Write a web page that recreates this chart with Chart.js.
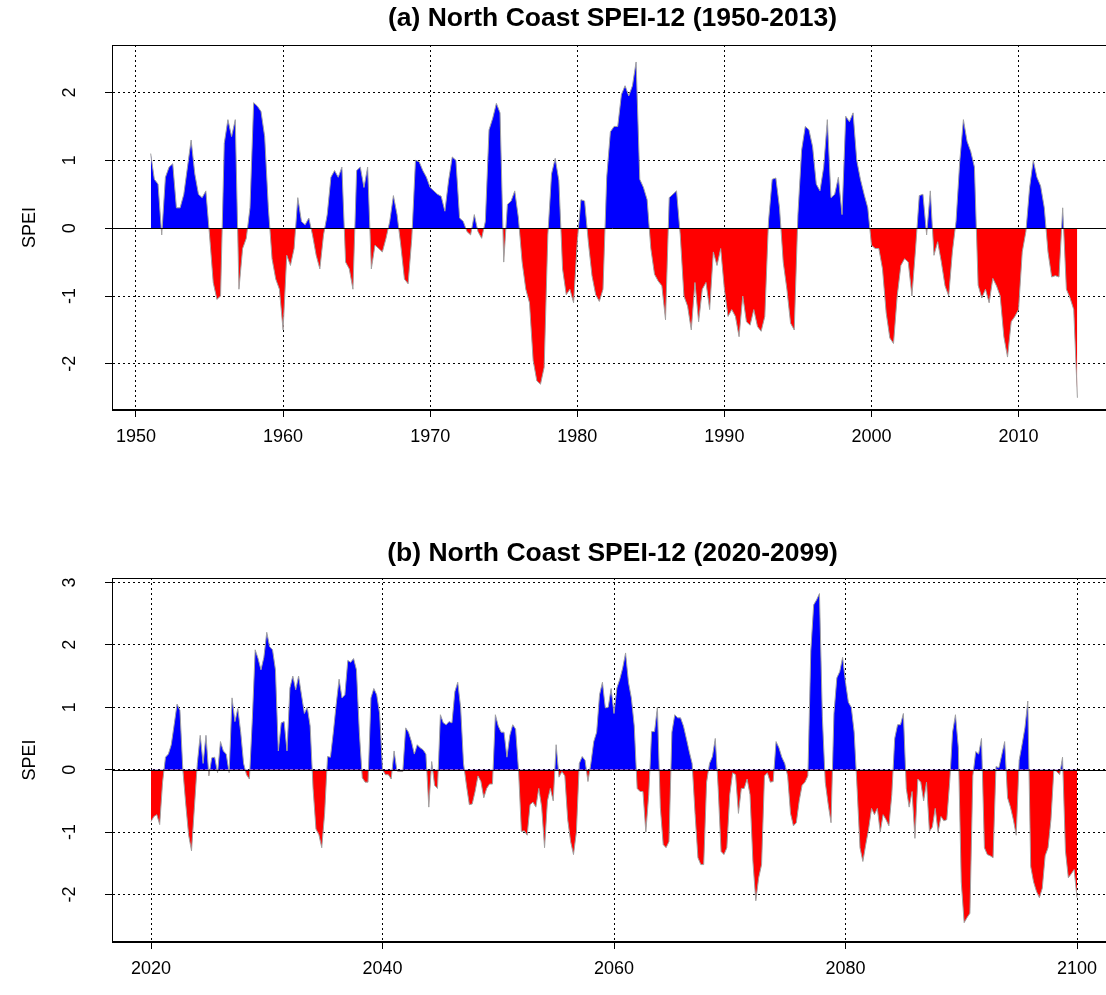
<!DOCTYPE html>
<html>
<head>
<meta charset="utf-8">
<title>North Coast SPEI-12</title>
<script src="https://cdn.jsdelivr.net/npm/chart.js@4.4.1/dist/chart.umd.min.js"></script>
<style>
  html, body { margin: 0; padding: 0; background: #fff; overflow: hidden; }
  #wrap { position: relative; width: 1106px; height: 995px; overflow: hidden; }
  .panel { position: absolute; left: 0; width: 1120px; }
  #panelA { top: 0; height: 490px; }
  #panelB { top: 535px; height: 460px; }
</style>
</head>
<body>
<div id="wrap">
  <div class="panel" id="panelA"><canvas id="chartA"></canvas></div>
  <div class="panel" id="panelB"><canvas id="chartB"></canvas></div>
</div>
<script>
// SPEI-12, one value per quarter, one row per year
const startA = 1951;
const speiA = [
  1.1, 0.72, 0.65, -0.1,     // 1951
  0.75, 0.9, 0.95, 0.3,
  0.3, 0.5, 0.9, 1.3,
  0.8, 0.5, 0.45, 0.55,
  -0.1, -0.8, -1.05, -1.0,   // 1955
  1.25, 1.6, 1.35, 1.6,
  -0.9, -0.3, -0.15, 0.3,
  1.85, 1.8, 1.72, 1.35,
  0.3, -0.45, -0.75, -0.9,
  -1.5, -0.4, -0.55, -0.3,   // 1960
  0.45, 0.1, 0.05, 0.15,
  -0.1, -0.4, -0.6, -0.1,
  0.2, 0.75, 0.85, 0.75,
  0.9, -0.5, -0.6, -0.9,
  0.85, 0.9, 0.6, 0.9,       // 1965
  -0.6, -0.25, -0.3, -0.35,
  -0.15, 0.1, 0.48, 0.2,
  -0.25, -0.75, -0.82, -0.15,
  1.0, 0.98, 0.85, 0.75,
  0.6, 0.55, 0.5, 0.47,      // 1970
  0.25, 0.7, 1.05, 1.0,
  0.15, 0.1, -0.05, -0.1,
  0.2, -0.05, -0.15, 0.1,
  1.45, 1.62, 1.84, 1.7,
  -0.5, 0.35, 0.4, 0.55,     // 1975
  0.15, -0.5, -0.9, -1.1,
  -1.95, -2.25, -2.3, -2.05,
  -0.1, 0.8, 1.03, 0.7,
  -0.6, -0.98, -0.9, -1.1,
  -0.2, 0.42, 0.4, -0.2,     // 1980
  -0.7, -0.98, -1.08, -0.9,
  0.75, 1.42, 1.5, 1.5,
  1.97, 2.1, 1.95, 2.1,
  2.45, 0.72, 0.6, 0.42,
  -0.3, -0.68, -0.78, -0.85, // 1985
  -1.35, 0.45, 0.5, 0.55,
  -0.1, -1.0, -1.15, -1.5,
  -0.8, -1.38, -0.9, -0.8,
  -1.2, -0.35, -0.55, -0.3,
  -0.9, -1.3, -1.2, -1.3,    // 1990
  -1.6, -1.0, -1.38, -1.43,
  -1.2, -1.45, -1.52, -1.3,
  0.1, 0.72, 0.74, 0.3,
  -0.5, -0.9, -1.4, -1.5,
  0.2, 1.15, 1.5, 1.45,      // 1995
  1.2, 0.65, 0.55, 0.9,
  1.6, 0.45, 0.5, 0.75,
  0.2, 1.65, 1.57, 1.7,
  1.0, 0.72, 0.5, 0.3,
  -0.25, -0.3, -0.3, -0.6,   // 2000
  -1.25, -1.62, -1.7, -1.0,
  -0.55, -0.45, -0.5, -1.0,
  -0.3, 0.48, 0.5, -0.1,
  0.55, -0.4, -0.2, -0.5,
  -0.85, -1.0, -0.35, 0.1,   // 2005
  0.98, 1.6, 1.28, 1.13,
  0.9, -0.84, -1.03, -0.9,
  -1.1, -0.74, -0.85, -1.0,
  -1.6, -1.9, -1.38, -1.3,
  -1.2, -0.35, -0.05, 0.6,   // 2010
  1.0, 0.75, 0.62, 0.3,
  -0.35, -0.72, -0.7, -0.72,
  0.3, -0.9, -1.03, -1.2,
  -2.5                       // 2014
];

const startB = 2020;
const speiB = [
  -0.83, -0.75, -0.72, -0.88, // 2020
  -0.2, 0.2, 0.25, 0.4,
  0.72, 1.05, 0.95, 0.0,
  -0.55, -1.05, -1.3, -0.6,
  0.1, 0.55, 0.1, 0.55,
  -0.1, 0.19, 0.2, -0.05,     // 2025
  0.45, 0.3, 0.25, -0.05,
  1.15, 0.77, 0.98, 0.6,
  0.1, -0.08, -0.15, 0.8,
  1.92, 1.78, 1.6, 1.8,
  2.2, 1.97, 1.92, 1.6,       // 2030
  0.3, 0.75, 0.77, 0.3,
  1.31, 1.5, 1.28, 1.5,
  1.2, 0.9, 1.0, 0.7,
  -0.3, -0.95, -1.04, -1.25,
  -0.7, 0.21, 0.2, 0.6,       // 2035
  1.05, 1.45, 1.15, 1.2,
  1.75, 1.72, 1.78, 1.6,
  0.6, -0.13, -0.2, -0.2,
  1.15, 1.3, 1.2, 0.9,
  0.0, -0.08, -0.08, -0.15,   // 2040
  0.3, -0.02, -0.03, -0.03,
  0.67, 0.6, 0.45, 0.25,
  0.4, 0.35, 0.32, 0.25,
  -0.6, 0.13, -0.25, -0.3,
  0.88, 0.75, 0.72, 0.77,     // 2045
  0.75, 1.25, 1.4, 1.0,
  0.1, -0.25, -0.56, -0.55,
  -0.35, -0.1, -0.19, -0.45,
  -0.3, -0.23, -0.23, 0.88,
  0.7, 0.6, 0.6, 0.2,         // 2050
  0.55, 0.72, 0.65, 0.0,
  -0.99, -0.98, -1.05, -0.56,
  -0.52, -0.6, -0.3, -0.6,
  -1.25, -0.5, -0.3, -0.5,
  0.4, -0.12, -0.03, -0.1,    // 2055
  -0.8, -1.15, -1.36, -1.0,
  0.1, 0.21, 0.15, -0.19,
  0.1, 0.45, 0.6, 1.2,
  1.4, 0.99, 1.0, 1.3,
  0.9, 1.31, 1.45, 1.63,      // 2060
  1.87, 1.4, 1.15, 0.7,
  -0.3, -0.35, -0.35, -1.0,
  -0.4, 0.61, 0.61, 1.0,
  -0.6, -1.2, -1.25, -1.15,
  0.6, 0.88, 0.83, 0.83,      // 2065
  0.7, 0.5, 0.29, 0.1,
  -0.7, -1.41, -1.52, -1.52,
  -0.2, 0.1, 0.21, 0.5,
  -0.3, -1.31, -1.36, -1.25,
  -0.4, -0.05, -0.08, -0.7,   // 2070
  -0.3, -0.3, -0.15, -0.4,
  -1.47, -2.1, -1.73, -1.52,
  -0.1, -0.05, -0.2, -0.19,
  0.45, 0.35, 0.2, 0.1,
  -0.1, -0.7, -0.9, -0.85,    // 2075
  -0.5, -0.25, -0.2, -0.1,
  1.9, 2.64, 2.72, 2.82,
  0.85, -0.2, -0.55, -0.85,
  0.9, 1.47, 1.57, 1.8,
  1.4, 1.08, 1.0, 0.6,        // 2080
  -0.3, -1.25, -1.47, -1.2,
  -0.95, -0.62, -0.72, -0.62,
  -1.0, -0.72, -0.8, -0.9,
  -0.4, 0.5, 0.72, 0.72,
  0.9, -0.3, -0.6, -0.35,     // 2085
  -1.1, -0.15, -0.2, -0.5,
  -0.2, -0.99, -0.92, -0.62,
  -1.0, -0.75, -0.82, -0.8,
  -0.2, 0.6, 0.88, 0.35,
  -1.8, -2.45, -2.37, -2.3,   // 2090
  -0.1, 0.29, 0.25, 0.5,
  -1.25, -1.36, -1.38, -1.41,
  0.05, 0.03, 0.24, 0.45,
  -0.45, -0.6, -0.8, -1.05,
  0.15, 0.4, 0.67, 1.1,       // 2095
  -1.55, -1.8, -1.95, -2.05,
  -1.9, -1.38, -1.25, -0.8,
  0.0, -0.03, -0.08, 0.2,
  -1.3, -1.73, -1.67, -1.6,
  -2.05                       // 2100
];

const xTicksA = [1950, 1960, 1970, 1980, 1990, 2000, 2010];
const yTicksA = [-2, -1, 0, 1, 2];
const xTicksB = [2020, 2040, 2060, 2080, 2100];
const yTicksB = [-2, -1, 0, 1, 2, 3];

Chart.defaults.font.family = '"Liberation Sans", Arial, sans-serif';
Chart.defaults.color = '#000';

function toPoints(start, values) {
  return values.map((v, i) => ({ x: start + i / 4, y: v }));
}

// box around the plot region and the solid zero line
const frame = {
  id: 'frame',
  afterDatasetsDraw(chart) {
    const { ctx, chartArea: a, scales: { y } } = chart;
    const y0 = Math.round(y.getPixelForValue(0)) + 0.5;
    ctx.save();
    ctx.strokeStyle = '#000';
    ctx.lineWidth = 1;
    ctx.beginPath();
    ctx.moveTo(a.left, y0);
    ctx.lineTo(a.right, y0);
    ctx.stroke();
    ctx.strokeRect(a.left + 0.5, a.top + 0.5, a.width - 1, a.height - 1);
    ctx.restore();
  }
};

function makeChart(id, title, points, xRange, yRange, xTicks, yTicks, titlePad, xHeight) {
  return new Chart(document.getElementById(id), {
    type: 'line',
    data: {
      datasets: [{
        data: points,
        borderColor: '#a0a0a0',
        borderWidth: 1,
        pointRadius: 0,
        tension: 0,
        fill: { target: 'origin', above: '#0000ff', below: '#ff0000' }
      }]
    },
    options: {
      responsive: true,
      maintainAspectRatio: false,
      animation: false,
      layout: { padding: { left: 0, right: 7, top: 0, bottom: 0 } },
      plugins: {
        legend: { display: false },
        tooltip: { enabled: false },
        title: {
          display: true,
          fullSize: false, // centred over the plot region only
          text: title,
          color: '#000',
          font: { size: 26.5, weight: 'bold' },
          padding: titlePad
        }
      },
      scales: {
        x: {
          type: 'linear',
          min: xRange[0],
          max: xRange[1],
          afterBuildTicks: s => { s.ticks = xTicks.map(v => ({ value: v })); },
          afterFit: s => { s.height = xHeight; },
          grid: { color: '#000', lineWidth: 1, tickLength: 7, tickColor: '#000' },
          border: { display: true, color: '#000', dash: [2, 3] },
          ticks: {
            color: '#000',
            font: { size: 18 },
            padding: 9,
            maxRotation: 0,
            autoSkip: false,
            callback: v => String(v)
          }
        },
        y: {
          min: yRange[0],
          max: yRange[1],
          afterBuildTicks: s => { s.ticks = yTicks.map(v => ({ value: v })); },
          afterFit: s => { s.width = 112; },
          grid: { color: '#000', lineWidth: 1, tickLength: 7, tickColor: '#000' },
          border: { display: true, color: '#000', dash: [2, 3] },
          title: {
            display: true,
            text: 'SPEI',
            color: '#000',
            font: { size: 18 },
            padding: { top: 19, bottom: 0 }
          },
          ticks: {
            color: '#000',
            font: { size: 18 },
            padding: 27,
            minRotation: 90,
            maxRotation: 90,
            crossAlign: 'center',
            callback: v => String(v)
          }
        }
      }
    },
    plugins: [frame]
  });
}

makeChart('chartA', '(a) North Coast SPEI-12 (1950-2013)', toPoints(startA, speiA),
  [1948.37, 2016.42], [-2.68, 2.70], xTicksA, yTicksA, { top: 3, bottom: 10.2 }, 80);
makeChart('chartB', '(b) North Coast SPEI-12 (2020-2099)', toPoints(startB, speiB),
  [2016.63, 2103.11], [-2.76, 3.07], xTicksB, yTicksB, { top: 3, bottom: 8.2 }, 53);
</script>
</body>
</html>
